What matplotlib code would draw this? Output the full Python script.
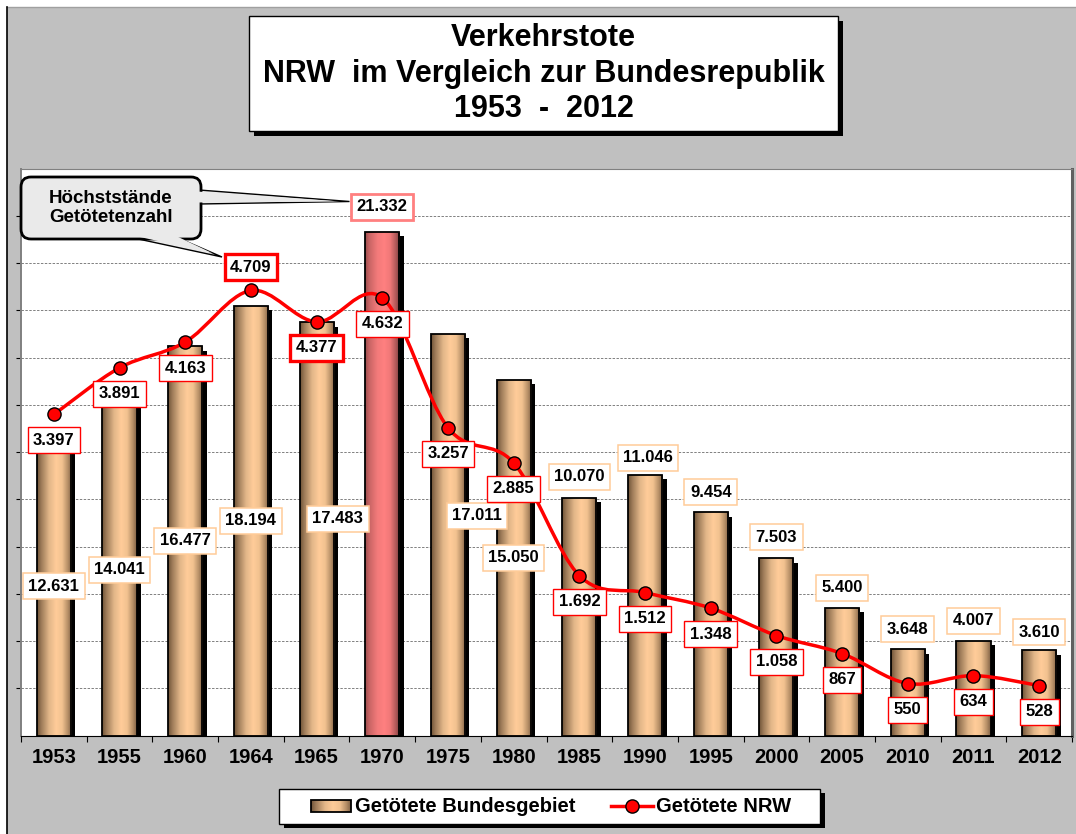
import numpy as np
import matplotlib
matplotlib.use("Agg")
import matplotlib.pyplot as plt
import matplotlib.patheffects as pe
from matplotlib.colors import LinearSegmentedColormap
from matplotlib.patches import Rectangle, FancyBboxPatch, Polygon, PathPatch
from matplotlib.path import Path

plt.rcParams["font.family"] = ["Liberation Sans", "DejaVu Sans"]
plt.rcParams["font.weight"] = "bold"

# data
YEARS = ["1953", "1955", "1960", "1964", "1965", "1970", "1975", "1980",
         "1985", "1990", "1995", "2000", "2005", "2010", "2011", "2012"]
BUND = [12631, 14041, 16477, 18194, 17483, 21332, 17011, 15050,
        10070, 11046, 9454, 7503, 5400, 3648, 4007, 3610]
NRW = [3397, 3891, 4163, 4709, 4377, 4632, 3257, 2885,
       1692, 1512, 1348, 1058, 867, 550, 634, 528]
TITLE = "Verkehrstote\nNRW  im Vergleich zur Bundesrepublik\n1953  -  2012"
CALLOUT = "Höchststände\nGetötetenzahl"
LEGEND = ["Getötete Bundesgebiet", "Getötete NRW"]

# label placement (pixel offsets, Excel had some labels moved by hand)
BUND_ANCHOR = ["mid"] * 5 + ["top", "mid", "mid"] + ["top"] * 8
BUND_OFFSET = [(0, 0), (0, 0), (0, 0), (0, 0), (21, 10), (0, 25), (29, 19), (0, 0),
               (0, 21), (3, 17), (0, 20), (0, 21), (0, 20), (0, 20), (0, 20), (0, 18)]
NRW_OFFSET = [(0, -26)] * 3 + [(0, 23)] + [(0, -26)] * 12
HIGHLIGHT = 5  # 1970 bar
THICK_NRW = [3, 4]

W, H = 1076, 834
BG = "#C0C0C0"
tan = LinearSegmentedColormap.from_list("tan", [
    (0.0, "#6E5236"), (0.12, "#9C7A58"), (0.35, "#E3B789"), (0.55, "#FFCC99"),
    (0.72, "#F2C290"), (0.88, "#B89068"), (1.0, "#7E6044")])
pink = LinearSegmentedColormap.from_list("pink", [
    (0.0, "#9A4C4C"), (0.12, "#C86464"), (0.35, "#F27A7A"), (0.55, "#FF8080"),
    (0.72, "#F07878"), (0.88, "#B45A5A"), (1.0, "#7A3D3D")])
grad = np.linspace(0, 1, 256).reshape(1, -1)

fig = plt.figure(figsize=(W / 100, H / 100), dpi=100)
fig.patch.set_facecolor(BG)

ax = fig.add_axes([21 / W, (H - 735.5) / H, (1072 - 21) / W, (735.5 - 168.5) / H])
ax.set_facecolor("white")
x = np.arange(len(YEARS))
bw = 0.52

bars = ax.bar(x, BUND, width=bw, color="#D9A877", edgecolor="none", zorder=2,
              path_effects=[pe.SimplePatchShadow(offset=(3.2, -3.2), shadow_rgbFace="black", alpha=1.0),
                            pe.Normal()])
for i, b in enumerate(bars):
    im = ax.imshow(grad, cmap=pink if i == HIGHLIGHT else tan, aspect="auto",
                   extent=(x[i] - bw / 2, x[i] + bw / 2, 0, BUND[i]), zorder=3,
                   interpolation="bilinear")
    im.set_clip_path(b)
ax.bar(x, BUND, width=bw, fill=False, edgecolor="black", linewidth=1.3, zorder=4)

ax.set_xlim(-0.5, len(YEARS) - 0.5)
ax.set_ylim(0, 24000)
ax.set_yticks(np.arange(2000, 24000, 2000))
ax.yaxis.grid(True, color="#808080", linestyle=(0, (2.5, 1.5)), linewidth=0.7)
ax.set_axisbelow(True)
ax.tick_params(axis="y", which="both", left=False, right=False, labelleft=False)
ax.set_xticks(x)
ax.set_xticklabels(YEARS, fontsize=14.5, fontweight="bold",
                   family=["Liberation Sans Narrow", "Liberation Sans"])
ax.set_xticks(np.arange(-0.5, len(YEARS), 1), minor=True)
ax.tick_params(axis="x", which="major", length=0, pad=9)
ax.tick_params(axis="x", which="minor", length=4.2, width=0.8, direction="out")
ax.spines["top"].set_color("#808080")
ax.spines["left"].set_color("#808080")
ax.spines["left"].set_linewidth(1.4)
ax.spines["right"].set_color("#606060")
ax.spines["right"].set_linewidth(2.2)
ax.spines["bottom"].set_color("black")

ax2 = ax.twinx()
ax2.set_ylim(0, 6000)
ax2.set_xlim(-0.5, len(YEARS) - 0.5)
ax2.axis("off")

# smoothed line like Excel (bezier through the points)
pts = np.column_stack([x, NRW]).astype(float)
verts, codes = [pts[0]], [Path.MOVETO]
for k in range(len(pts) - 1):
    p0 = pts[k - 1] if k > 0 else pts[k]
    p3 = pts[k + 2] if k + 2 < len(pts) else pts[k + 1]
    verts += [pts[k] + (pts[k + 1] - p0) / 6, pts[k + 1] - (p3 - pts[k]) / 6, pts[k + 1]]
    codes += [Path.CURVE4] * 3
ax2.add_patch(PathPatch(Path(verts, codes), fill=False, edgecolor="#FF0000",
                        linewidth=2.5, zorder=5, capstyle="round", joinstyle="round"))
ax2.plot(x, NRW, linestyle="none", marker="o", markersize=9.5, markerfacecolor="#FF0000",
         markeredgecolor="black", markeredgewidth=1.0, zorder=6)


def fmt(v):
    return f"{v:,}".replace(",", ".")


for i, v in enumerate(BUND):
    yy = v / 2 if BUND_ANCHOR[i] == "mid" else v
    ec, lw = ("#FF8080", 2.0) if i == HIGHLIGHT else ("#FFCC99", 1.1)
    ax2.annotate(fmt(v), (x[i], yy), xycoords=ax.transData, xytext=BUND_OFFSET[i],
                 textcoords="offset pixels", ha="center", va="center", fontsize=12,
                 fontweight="bold", zorder=7,
                 bbox=dict(boxstyle="square,pad=0.33", fc="white", ec=ec, lw=lw))
for i, v in enumerate(NRW):
    lw = 2.4 if i in THICK_NRW else 1.0
    ax2.annotate(fmt(v), (x[i], v), xytext=NRW_OFFSET[i], textcoords="offset pixels",
                 ha="center", va="center", fontsize=12, fontweight="bold", zorder=7,
                 bbox=dict(boxstyle="square,pad=0.33", fc="white", ec="#FF0000", lw=lw))

# decorations in pixel space
ov = fig.add_axes([0, 0, 1, 1], zorder=10)
ov.set_xlim(0, W)
ov.set_ylim(H, 0)
ov.axis("off")
ov.patch.set_alpha(0)

ov.add_patch(Rectangle((0, 0), W, 7, fc="white", ec="none"))
ov.add_patch(Rectangle((0, 0), 7, H, fc="white", ec="none"))
ov.plot([7, W], [7, 7], color="#A0A0A0", lw=1)
ov.plot([7, 7], [7, H], color="black", lw=1.2)

# title box
ov.add_patch(Rectangle((254, 21), 589, 115, fc="black", ec="none"))
ov.add_patch(Rectangle((249, 16), 589, 115, fc="white", ec="black", lw=1))
ov.text(543.5, 73.5, TITLE, ha="center", va="center", fontsize=22, fontweight="bold",
        linespacing=1.25, multialignment="center")

# callout
gray = "#EAEAEA"
w1 = [(199, 190), (349.5, 201.5), (199, 204)]
w2 = [(129, 237), (222, 257), (176, 237)]
for w in (w1, w2):
    ov.add_patch(Polygon(w, closed=True, fc=gray, ec="black", lw=1.0, zorder=1))
ov.add_patch(FancyBboxPatch((21, 177), 180, 62, boxstyle="round,pad=0,rounding_size=10",
                            fc=gray, ec="black", lw=2.0, zorder=2))
for w in ([(197, 191.5), (340, 201.5), (197, 202.5)], [(131, 235), (212, 253), (174, 235)]):
    ov.add_patch(Polygon(w, closed=True, fc=gray, ec="none", zorder=3))
ov.text(111, 208, CALLOUT, ha="center", va="center", fontsize=13.5, fontweight="bold",
        linespacing=1.12, zorder=4)

# legend
ov.add_patch(Rectangle((283.5, 793), 541, 35.3, fc="black", ec="none"))
ov.add_patch(Rectangle((279, 788.7), 541, 35.3, fc="white", ec="black", lw=1))
ov.imshow(grad, cmap=tan, aspect="auto", extent=(310.6, 350.5, 812, 800), zorder=3)
ov.add_patch(Rectangle((310.6, 800), 39.9, 12, fill=False, ec="black", lw=1.3, zorder=4))
ov.text(355.4, 812.3, LEGEND[0], va="baseline", ha="left", fontsize=14.5, fontweight="bold")
ov.plot([611, 653], [806, 806], color="#FF0000", lw=2.5)
ov.plot([632], [806], marker="o", markersize=9.5, markerfacecolor="#FF0000",
        markeredgecolor="black", markeredgewidth=1.0)
ov.text(656, 812.3, LEGEND[1], va="baseline", ha="left", fontsize=14.5, fontweight="bold")
ov.set_xlim(0, W)
ov.set_ylim(H, 0)

fig.savefig("out.png", dpi=100, facecolor=fig.get_facecolor())
